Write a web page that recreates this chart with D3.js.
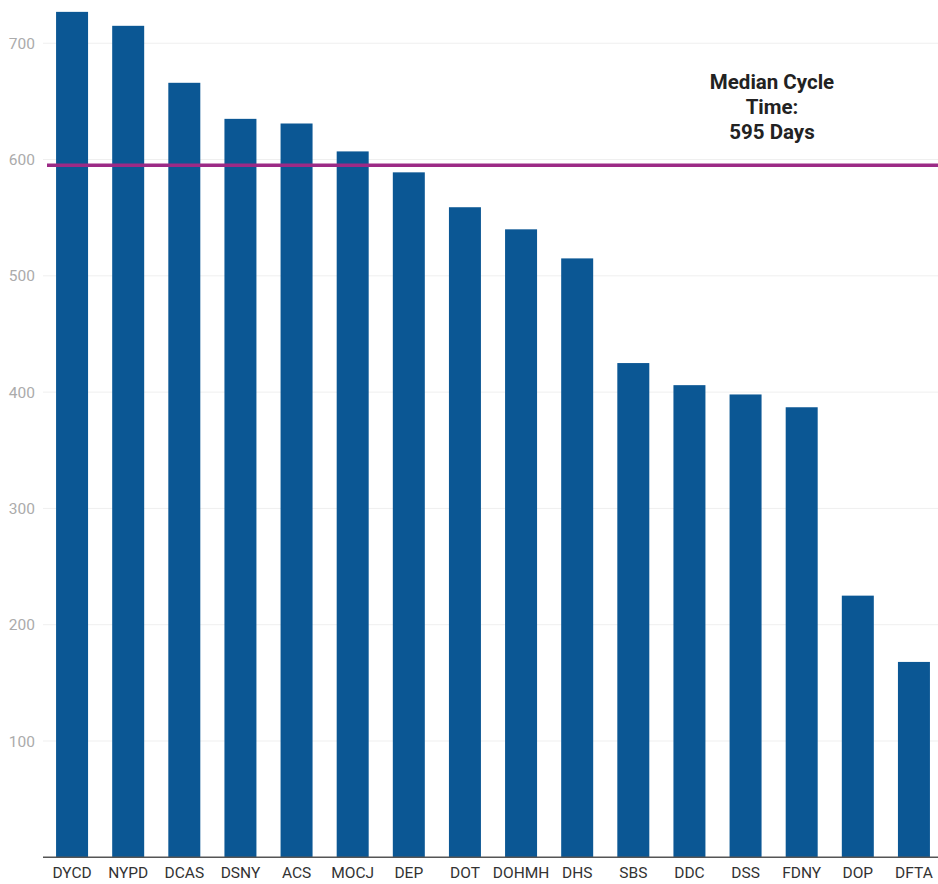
<!DOCTYPE html>
<html>
<head>
<meta charset="utf-8">
<script src="https://cdn.jsdelivr.net/npm/d3@7"></script>
<style>
  html, body { margin: 0; padding: 0; background: #fff; }
  svg { display: block; font-family: Roboto, "Noto Sans", sans-serif; }
</style>
</head>
<body>
<svg id="chart" width="938" height="884"></svg>
<script>
const categories = ["DYCD","NYPD","DCAS","DSNY","ACS","MOCJ","DEP","DOT","DOHMH","DHS","SBS","DDC","DSS","FDNY","DOP","DFTA"];
const values = [727, 715, 666, 635, 631, 607, 589, 559, 540, 515, 425, 406, 398, 387, 225, 168];
const yTicks = [100, 200, 300, 400, 500, 600, 700];
const medianValue = 595;
const annotationLines = ["Median Cycle", "Time:", "595 Days"];

const svg = d3.select("#chart");
const W = 938;

const x = d3.scaleBand().domain(categories).range([44, 942]).paddingInner(0.43).paddingOuter(0.215);
const y = d3.scaleLinear().domain([0, 737.2]).range([857.3, 0]);

// gridlines
svg.append("g").selectAll("line").data(yTicks).join("line")
  .attr("x1", 43).attr("x2", W)
  .attr("y1", d => y(d)).attr("y2", d => y(d))
  .attr("stroke", "#efefef").attr("stroke-width", 1);

// y tick labels
svg.append("g").selectAll("text").data(yTicks).join("text")
  .attr("x", 35).attr("y", d => y(d)).attr("dy", "0.36em")
  .attr("text-anchor", "end")
  .attr("font-size", 15.5).attr("fill", "#ababab")
  .text(d => d);

// bars
svg.append("g").selectAll("rect").data(categories).join("rect")
  .attr("x", d => x(d))
  .attr("width", x.bandwidth())
  .attr("y", (d, i) => y(values[i]))
  .attr("height", (d, i) => y(0) - y(values[i]))
  .attr("fill", "#0b5794");

// x axis
const xAxis = d3.axisBottom(x).tickSize(0).tickPadding(10);
const gx = svg.append("g").attr("transform", `translate(0,${y(0)})`).call(xAxis);
gx.select(".domain").attr("d", `M43,0H${W}`).attr("stroke", "#555").attr("stroke-width", 1.6);
gx.selectAll("text").attr("font-size", 15.5).attr("fill", "#333").attr("font-family", "Roboto, sans-serif");

// median line
svg.append("line")
  .attr("x1", 47).attr("x2", W)
  .attr("y1", y(medianValue)).attr("y2", y(medianValue))
  .attr("stroke", "#9c2a86").attr("stroke-width", 3.5);

// annotation
svg.append("g").selectAll("text").data(annotationLines).join("text")
  .attr("x", 772).attr("y", (d, i) => 88.5 + i * 25)
  .attr("text-anchor", "middle")
  .attr("font-size", 20.5).attr("font-weight", "bold").attr("fill", "#222")
  .text(d => d);
</script>
</body>
</html>
